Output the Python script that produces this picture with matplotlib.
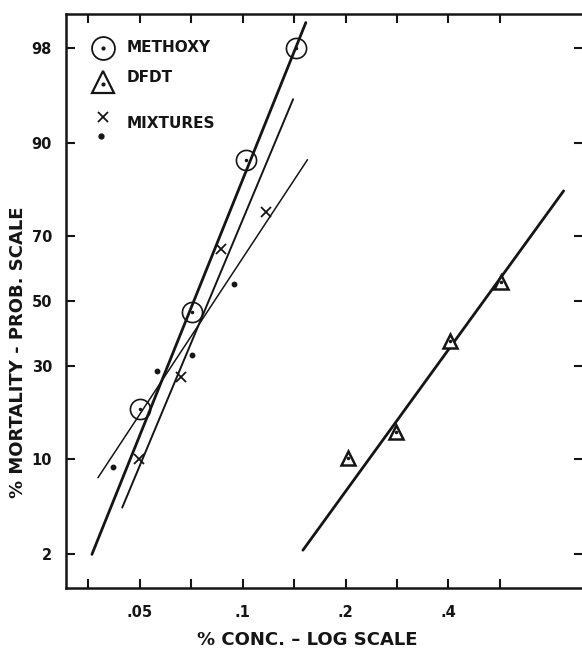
import numpy as np
import matplotlib
matplotlib.use("Agg")
import matplotlib.pyplot as plt
from matplotlib.ticker import FixedLocator, FixedFormatter, NullLocator
from statistics import NormalDist

# --- data (conc. in %, mortality in %) ---
methoxy_conc = [0.050, 0.0709, 0.1025, 0.1433]
methoxy_mort = [19.1, 46.4, 87.3, 98.0]

dfdt_conc = [0.2035, 0.2815, 0.405, 0.568]
dfdt_mort = [10.1, 14.5, 37.3, 56.1]

mix_x_conc = [0.0497, 0.0658, 0.0866, 0.1168]
mix_x_mort = [10.0, 26.9, 66.3, 76.5]

mix_dot_conc = [0.0418, 0.0560, 0.0709, 0.0943]
mix_dot_mort = [8.9, 28.6, 33.2, 55.5]

# fitted probit lines (end points)
methoxy_line_conc = [0.0362, 0.153]
methoxy_line_mort = [2.0, 98.8]
mix_line1_conc = [0.0444, 0.1404]
mix_line1_mort = [4.7, 94.9]
mix_line2_conc = [0.0377, 0.1547]
mix_line2_mort = [7.6, 87.4]
dfdt_line_conc = [0.150, 0.869]
dfdt_line_mort = [2.17, 81.4]

yticks = [2, 10, 30, 50, 70, 90, 98]
xticks = [0.05 * 2 ** (k / 2) for k in range(-1, 8)]
xlabels = ['', '.05', '', '.1', '', '.2', '', '.4', '']

_nd = NormalDist()
_ppf = np.vectorize(_nd.inv_cdf, otypes=[float])
_cdf = np.vectorize(_nd.cdf, otypes=[float])


def probit(p):
    p = np.clip(np.asarray(p, dtype=float) / 100.0, 1e-9, 1 - 1e-9)
    return _ppf(p)


def inv_probit(z):
    return _cdf(np.asarray(z, dtype=float)) * 100.0


ink = '#151515'
plt.rcParams['font.family'] = ['DejaVu Sans']

fig = plt.figure(figsize=(5.82, 6.53), dpi=100)
ax = fig.add_axes([66 / 582, 65 / 653, 517 / 582, 574 / 653])

ax.set_xscale('log')
ax.set_yscale('function', functions=(probit, inv_probit))
ax.set_xlim(0.0304, 0.99)
ax.set_ylim(1, 99)

# lines
ax.plot(methoxy_line_conc, methoxy_line_mort, color=ink, lw=2.0, solid_capstyle='round')
ax.plot(mix_line1_conc, mix_line1_mort, color=ink, lw=1.4, solid_capstyle='round')
ax.plot(mix_line2_conc, mix_line2_mort, color=ink, lw=1.1, solid_capstyle='round')
ax.plot(dfdt_line_conc, dfdt_line_mort, color=ink, lw=2.0, solid_capstyle='round')

# points
ax.plot(methoxy_conc, methoxy_mort, 'o', ms=14.5, mfc='none', mec=ink, mew=1.2)
ax.plot(methoxy_conc, methoxy_mort, 'o', ms=1.5, color=ink)
ax.plot(dfdt_conc, dfdt_mort, '^', ms=10, mfc='white', mec=ink, mew=1.8)
ax.plot(dfdt_conc, dfdt_mort, 'o', ms=1.5, color=ink)
ax.plot(mix_x_conc, mix_x_mort, 'x', ms=6.5, color=ink, mew=1.3)
ax.plot(mix_dot_conc, mix_dot_mort, 'o', ms=3.2, color=ink)

# legend drawn by hand
tr = ax.transAxes
ax.plot([0.0716], [0.9408], 'o', ms=16.5, mfc='none', mec=ink, mew=1.3, transform=tr)
ax.plot([0.0716], [0.9408], 'o', ms=2, color=ink, transform=tr)
ax.plot([0.0716], [0.882], '^', ms=16, mfc='none', mec=ink, mew=1.6, transform=tr)
ax.plot([0.0716], [0.878], 'o', ms=2, color=ink, transform=tr)
ax.plot([0.0716], [0.8206], 'x', ms=7, color=ink, mew=1.3, transform=tr)
ax.plot([0.0677], [0.787], 'o', ms=3.5, color=ink, transform=tr)
ax.text(0.118, 0.9425, 'METHOXY', transform=tr, fontsize=11, fontweight='bold',
        va='center', ha='left', color=ink)
ax.text(0.118, 0.890, 'DFDT', transform=tr, fontsize=11, fontweight='bold',
        va='center', ha='left', color=ink)
ax.text(0.118, 0.810, 'MIXTURES', transform=tr, fontsize=11, fontweight='bold',
        va='center', ha='left', color=ink)

# ticks
ax.xaxis.set_major_locator(FixedLocator(xticks))
ax.xaxis.set_major_formatter(FixedFormatter(xlabels))
ax.xaxis.set_minor_locator(NullLocator())
ax.yaxis.set_major_locator(FixedLocator(yticks))
ax.yaxis.set_major_formatter(FixedFormatter([str(t) for t in yticks]))
ax.yaxis.set_minor_locator(NullLocator())
ax.tick_params(direction='in', length=6.5, width=1.5, top=True, right=True,
               labelsize=10.5, colors=ink)
ax.tick_params(axis='y', pad=10)
ax.tick_params(axis='x', pad=12)
for lab in ax.get_xticklabels() + ax.get_yticklabels():
    lab.set_fontweight('bold')
for sp in ax.spines.values():
    sp.set_linewidth(1.8)
    sp.set_color(ink)

fig.text(307 / 582, 1 - 640 / 653, '% CONC. – LOG SCALE', fontsize=13, fontweight='bold',
         ha='center', va='center', color=ink)
fig.text(18 / 582, 1 - 352 / 653, '% MORTALITY - PROB. SCALE', fontsize=13, fontweight='bold',
         ha='center', va='center', rotation=90, color=ink)

fig.savefig('out.png', dpi=100)
